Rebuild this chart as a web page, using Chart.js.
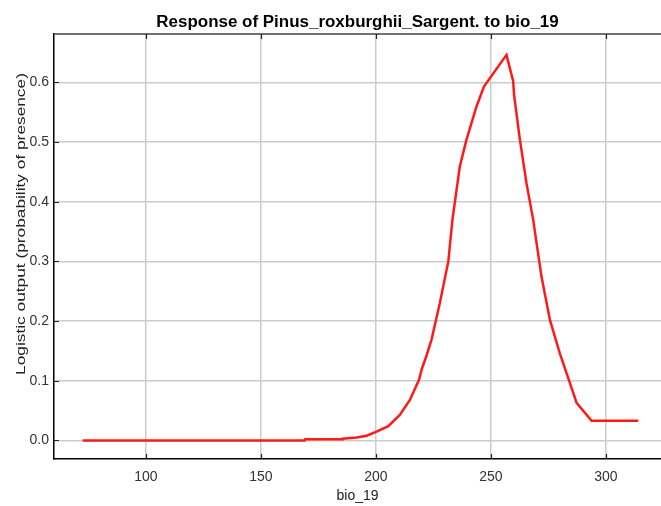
<!DOCTYPE html>
<html>
<head>
<meta charset="utf-8">
<script src="https://cdn.jsdelivr.net/npm/chart.js@4/dist/chart.umd.min.js"></script>
<style>
  html, body { margin: 0; padding: 0; background: #fff; }
  #wrap { width: 661px; height: 506px; }
</style>
</head>
<body>
<div id="wrap"><canvas id="responseChart" width="661" height="506"></canvas></div>
<script>
// --- response curve data ---
const chartTitle = 'Response of Pinus_roxburghii_Sargent. to bio_19';
const xLabel = 'bio_19';
const yLabel = 'Logistic output (probability of presence)';

const bio19 = [72.5, 169.0, 169.3, 185.3, 185.6, 191.6, 196.0, 200.3, 205.4, 210.4,
  214.8, 218.8, 219.9, 222.0, 224.2, 227.8, 231.5, 233.3, 236.5, 239.4, 243.8,
  247.0, 256.8, 259.7, 260.1, 262.6, 265.5, 268.4, 272.0, 275.7, 280.0,
  284.4, 287.3, 293.8, 314.1];
const logistic = [0.000, 0.000, 0.002, 0.002, 0.003, 0.005, 0.008, 0.015, 0.024, 0.043,
  0.068, 0.102, 0.119, 0.142, 0.169, 0.230, 0.300, 0.370, 0.459, 0.504, 0.560,
  0.593, 0.646, 0.602, 0.579, 0.505, 0.431, 0.370, 0.275, 0.202, 0.146,
  0.096, 0.063, 0.033, 0.033];

const xTicks = [100, 150, 200, 250, 300];
const yTicks = [0.0, 0.1, 0.2, 0.3, 0.4, 0.5, 0.6];

const FONT = '"Liberation Sans", Arial, sans-serif';

// title, rotated y title, top border and the small inward tick marks
const frame = {
  id: 'frame',
  beforeDatasetsDraw(chart) {
    const { ctx, chartArea: a, scales } = chart;
    ctx.save();
    ctx.strokeStyle = '#444';
    ctx.lineWidth = 1.5;
    ctx.beginPath();
    ctx.moveTo(a.left, a.top);
    ctx.lineTo(a.right, a.top);
    ctx.stroke();

    ctx.strokeStyle = '#222';
    ctx.lineWidth = 1.2;
    ctx.beginPath();
    xTicks.forEach(v => {
      const px = Math.round(scales.x.getPixelForValue(v)) + 0.5;
      ctx.moveTo(px, a.bottom); ctx.lineTo(px, a.bottom - 5);
      ctx.moveTo(px, a.top); ctx.lineTo(px, a.top + 5);
    });
    yTicks.forEach(v => {
      const py = Math.round(scales.y.getPixelForValue(v)) + 0.5;
      ctx.moveTo(a.left, py); ctx.lineTo(a.left + 5, py);
    });
    ctx.stroke();
    ctx.restore();
  },
  afterDraw(chart) {
    const { ctx, chartArea: a } = chart;
    ctx.save();
    ctx.fillStyle = '#000';
    ctx.textAlign = 'center';
    ctx.textBaseline = 'alphabetic';
    ctx.font = 'bold 16px ' + FONT;
    ctx.translate((a.left + a.right) / 2, 27);
    ctx.scale(1.06, 1);
    ctx.fillText(chartTitle, 0, 0);
    ctx.restore();

    ctx.save();
    ctx.fillStyle = '#222';
    ctx.textAlign = 'center';
    ctx.textBaseline = 'middle';
    ctx.font = '13px ' + FONT;
    ctx.translate(21, 224);
    ctx.rotate(-Math.PI / 2);
    ctx.scale(1.33, 1);
    ctx.fillText(yLabel, 0, 0);
    ctx.restore();
  }
};

const ctx = document.getElementById('responseChart').getContext('2d');

new Chart(ctx, {
  type: 'line',
  data: {
    datasets: [{
      data: bio19.map((x, i) => ({ x: x, y: logistic[i] })),
      borderColor: '#ff1a1a',
      borderWidth: 2.5,
      pointRadius: 0,
      tension: 0,
      fill: false
    }]
  },
  options: {
    responsive: false,
    animation: false,
    layout: { padding: { top: 34, right: 0, bottom: 0, left: 0 } },
    plugins: {
      legend: { display: false },
      title: { display: false },
      tooltip: { enabled: false }
    },
    scales: {
      x: {
        type: 'linear',
        min: 60,
        max: 324,
        afterBuildTicks: s => { s.ticks = xTicks.map(v => ({ value: v })); },
        afterFit: s => { s.height = 47; },
        ticks: {
          color: '#333',
          padding: 10,
          font: { family: FONT, size: 14 },
          callback: v => String(v)
        },
        grid: { color: '#cccccc', lineWidth: 1.5, drawTicks: false },
        border: { color: '#000', width: 1.5 },
        title: {
          display: true,
          text: xLabel,
          color: '#222',
          font: { family: FONT, size: 14 },
          padding: { top: 0, bottom: 1 }
        }
      },
      y: {
        min: -0.031,
        max: 0.681,
        afterBuildTicks: s => { s.ticks = yTicks.map(v => ({ value: v })); },
        afterFit: s => { s.width = 54; },
        ticks: {
          color: '#333',
          padding: 5,
          font: { family: FONT, size: 14 },
          callback: v => v.toFixed(1)
        },
        grid: { color: '#cccccc', lineWidth: 1.5, drawTicks: false },
        border: { color: '#000', width: 1.5 }
      }
    }
  },
  plugins: [frame]
});
</script>
</body>
</html>
